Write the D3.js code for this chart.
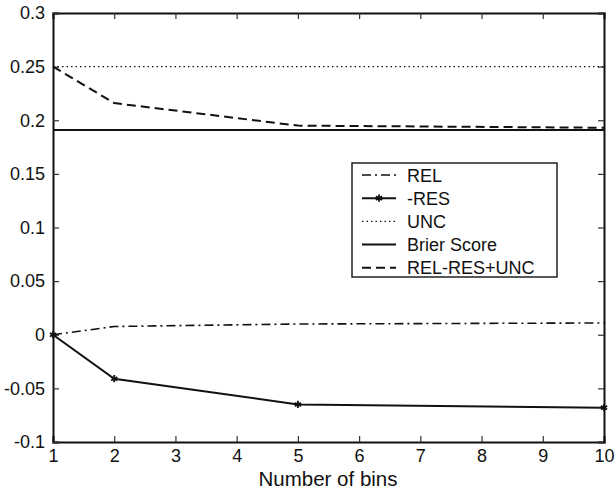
<!DOCTYPE html>
<html>
<head>
<meta charset="utf-8">
<script src="https://cdn.jsdelivr.net/npm/d3@7"></script>
<style>
  body { margin: 0; background: #fff; }
  text { font-family: "Liberation Sans", Arial, sans-serif; fill: #111; }
</style>
</head>
<body>
<script>
// data
var bins = [1, 2, 5, 10];
var rel = [0, 0.0077, 0.010, 0.011];
var res = [0, -0.041, -0.065, -0.068];
var unc = [0.25, 0.25, 0.25, 0.25];
var brier = [0.191, 0.191, 0.191, 0.191];
var total = [0.25, 0.216, 0.195, 0.193];

var xTicks = [1, 2, 3, 4, 5, 6, 7, 8, 9, 10];
var yTicks = [-0.1, -0.05, 0, 0.05, 0.1, 0.15, 0.2, 0.25, 0.3];
var legendNames = ["REL", "-RES", "UNC", "Brier Score", "REL-RES+UNC"];

var W = 616, H = 490;
// plot box edges (window.top is reserved, so use other names)
var plotL = 53, plotR = 604, plotT = 13, plotB = 442;

var svg = d3.select("body").append("svg").attr("width", W).attr("height", H);

var x = d3.scaleLinear().domain([1, 10]).range([plotL, plotR]);
var y = d3.scaleLinear().domain([-0.1, 0.3]).range([plotB, plotT]);

// format ticks like matlab
function fmt(v) {
  return String(Math.round(v * 100) / 100);
}

// axes, ticks inward
var xAxisB = d3.axisBottom(x).tickValues(xTicks).tickSize(-6).tickPadding(7).tickFormat(d3.format("d"));
var xAxisT = d3.axisTop(x).tickValues(xTicks).tickSize(-6).tickFormat("");
var yAxisL = d3.axisLeft(y).tickValues(yTicks).tickSize(-6).tickPadding(8).tickFormat(fmt);
var yAxisR = d3.axisRight(y).tickValues(yTicks).tickSize(-6).tickFormat("");

svg.append("g").attr("transform", "translate(0," + plotB + ")").call(xAxisB);
svg.append("g").attr("transform", "translate(0," + plotT + ")").call(xAxisT);
svg.append("g").attr("transform", "translate(" + plotL + ",0)").call(yAxisL);
svg.append("g").attr("transform", "translate(" + plotR + ",0)").call(yAxisR);

svg.selectAll(".domain").attr("stroke", "#111").attr("stroke-width", 2);
svg.selectAll(".tick line").attr("stroke", "#333").attr("stroke-width", 1.2);
svg.selectAll(".tick text")
  .style("font-size", "18px")
  .style("font-family", "Liberation Sans, Arial, sans-serif")
  .attr("fill", "#111");

// x label
svg.append("text")
  .attr("x", 328)
  .attr("y", 486)
  .attr("text-anchor", "middle")
  .style("font-size", "20.5px")
  .text("Number of bins");

// series
var series = [
  { vals: rel, dash: "9,4,2,4", width: 1.6 },
  { vals: res, dash: null, width: 2, marker: true },
  { vals: unc, dash: "1.5,3", width: 1.2 },
  { vals: brier, dash: null, width: 2 },
  { vals: total, dash: "9,5", width: 2 }
];

var line = d3.line()
  .x(function (d, i) { return x(bins[i]); })
  .y(function (d) { return y(d); });

series.forEach(function (s) {
  svg.append("path")
    .datum(s.vals)
    .attr("d", line)
    .attr("fill", "none")
    .attr("stroke", "#111")
    .attr("stroke-width", s.width)
    .attr("stroke-dasharray", s.dash);
  if (s.marker) {
    svg.selectAll(null)
      .data(s.vals)
      .enter()
      .append("path")
      .attr("d", d3.symbol().type(d3.symbolAsterisk).size(36))
      .attr("transform", function (d, i) { return "translate(" + x(bins[i]) + "," + y(d) + ")"; })
      .attr("fill", "none")
      .attr("stroke", "#111")
      .attr("stroke-width", 1.8);
  }
});

// legend
var lg = svg.append("g").attr("transform", "translate(352,163)");
lg.append("rect")
  .attr("width", 205).attr("height", 114)
  .attr("fill", "#fff").attr("stroke", "#222").attr("stroke-width", 1.5);

legendNames.forEach(function (name, i) {
  var s = series[i];
  var ly = 12 + i * 23.2;
  lg.append("line")
    .attr("x1", 10).attr("x2", 44)
    .attr("y1", ly).attr("y2", ly)
    .attr("stroke", "#111")
    .attr("stroke-width", s.width)
    .attr("stroke-dasharray", s.dash);
  if (s.marker) {
    lg.append("path")
      .attr("d", d3.symbol().type(d3.symbolAsterisk).size(36))
      .attr("transform", "translate(27," + ly + ")")
      .attr("fill", "none").attr("stroke", "#111").attr("stroke-width", 1.8);
  }
  lg.append("text")
    .attr("x", 55).attr("y", ly + 6.5)
    .style("font-size", "18px")
    .text(name);
});
</script>
</body>
</html>
